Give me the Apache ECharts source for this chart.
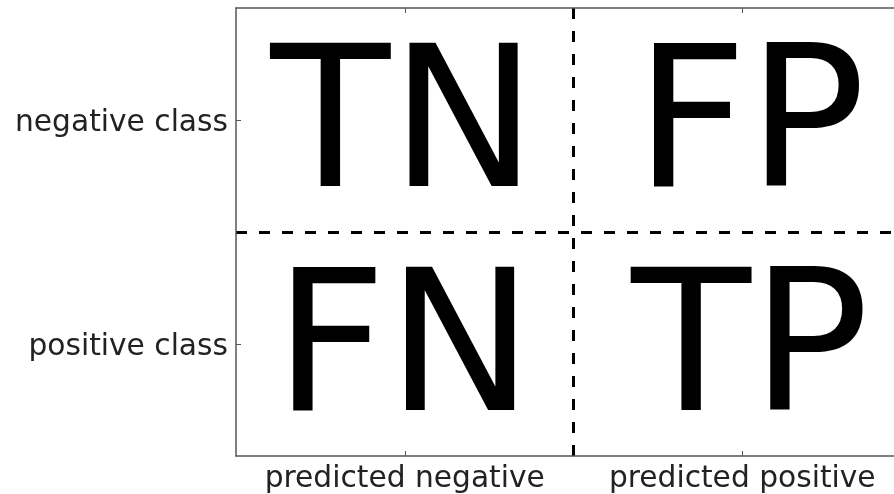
<!DOCTYPE html>
<html>
<head>
<meta charset="utf-8">
<script src="https://cdn.jsdelivr.net/npm/echarts@6/dist/echarts.min.js"></script>
<style>
html,body{margin:0;padding:0;background:#fff;}
#main{width:894px;height:494px;}
</style>
</head>
<body>
<div id="main"></div>
<script>
var xCats = ['predicted negative', 'predicted positive'];
var yCats = ['negative class', 'positive class'];
// [column, row, text]
var cells = [
	[0, 0, 'TN'],
	[1, 0, 'FP'],
	[0, 1, 'FN'],
	[1, 1, 'TP']
];

var init = function(){
	var myChart = echarts.init(document.getElementById('main'));
	var frame = {show: true, lineStyle: {color: '#555', width: 1.5}};
	var dash = {show: true, showMinLine: false, showMaxLine: false,
		lineStyle: {color: '#000', width: 3, type: [11, 12]}};
	var tick = {show: true, inside: true, alignWithLabel: true, length: 5, lineStyle: {color: '#555'}};
	// small horizontal nudge per column so the letters sit like the original
	var nudge = [-1, 8];
	var option = {
		animation: false,
		grid: {left: 236, top: 8, width: 675, height: 448, containLabel: false, outerBoundsMode: 'none'},
		xAxis: [
			{
				type: 'category', position: 'bottom', data: xCats,
				axisLine: frame,
				axisTick: tick,
				axisLabel: {color: '#222', fontSize: 29.7, fontFamily: 'DejaVu Sans', margin: 8, interval: 0, hideOverlap: false},
				splitLine: {show: false}
			},
			{
				type: 'category', position: 'top', data: xCats,
				axisLine: frame,
				axisTick: tick,
				axisLabel: {show: false},
				splitLine: {show: false}
			},
			{
				type: 'value', min: 0, max: 2, interval: 1, position: 'top',
				axisLine: {show: false}, axisTick: {show: false}, axisLabel: {show: false},
				splitLine: dash
			}
		],
		yAxis: [
			{
				type: 'category', position: 'left', inverse: true, data: yCats,
				axisLine: frame,
				axisTick: tick,
				axisLabel: {
					color: '#222', fontSize: 29.7, fontFamily: 'DejaVu Sans', margin: 8, interval: 0,
					formatter: function(v){ return '{a|' + v + '}'; },
					rich: {a: {color: '#222', fontSize: 29.7, fontFamily: 'DejaVu Sans', padding: [7, 0, 0, 0]}}
				},
				splitLine: {show: false}
			},
			{
				type: 'value', min: 0, max: 2, interval: 1, position: 'right',
				axisLine: {show: false}, axisTick: {show: false}, axisLabel: {show: false},
				splitLine: dash
			}
		],
		series: [
			{
				type: 'scatter',
				xAxisIndex: 0,
				yAxisIndex: 0,
				symbolSize: 0,
				itemStyle: {opacity: 1},
				data: cells.map(function(c){
					return {value: [c[0], c[1], c[2]], label: {offset: [nudge[c[0]], 15]}};
				}),
				label: {
					show: true,
					position: 'inside',
					color: '#000',
					fontSize: 196,
					fontFamily: 'DejaVu Sans',
					formatter: function(p){ return p.value[2]; }
				}
			}
		]
	};
	myChart.setOption(option);
}

init();
</script>
</body>
</html>
